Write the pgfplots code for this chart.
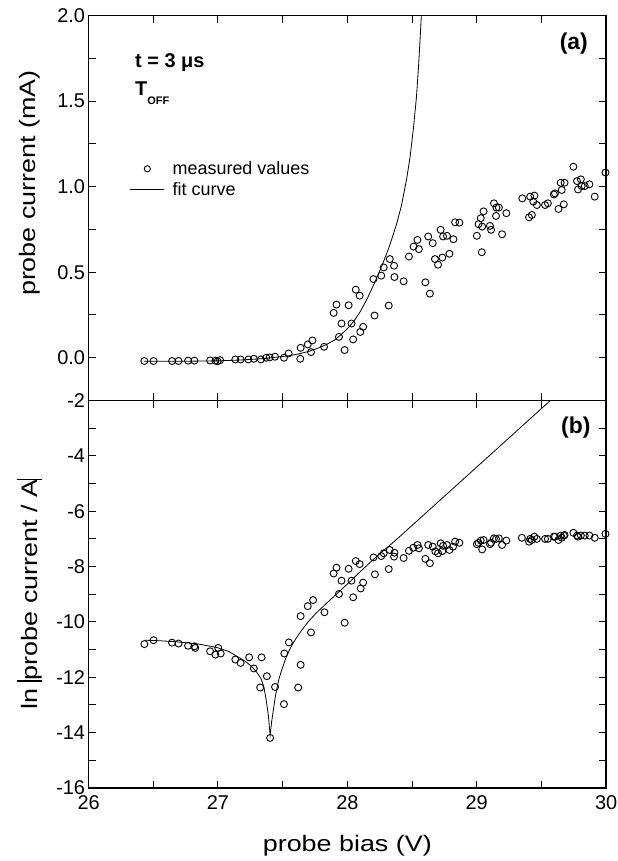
\documentclass[border=0pt]{standalone}
\usepackage{fontspec}
\setmainfont{Liberation Sans}
\newfontfamily\widefont[FakeStretch=1.2]{Liberation Sans}
\usepackage{pgfplots}
\pgfplotsset{compat=1.18}

\newcommand\tagfont{\fontsize{20}{20}\selectfont\bfseries}
\newcommand\panelfont{\fontsize{23}{23}\selectfont\bfseries}

\begin{document}
\begin{tikzpicture}
\pgfplotsset{
  every axis/.append style={
    scale only axis, width=517.5bp,
    xmin=26, xmax=30,
    xtick={26,27,28,29,30}, minor x tick num=1,
    axis line style={line width=1.3bp},
    every tick/.style={black, line width=1bp},
    major tick length=7bp, minor tick length=7bp,
    tick align=inside,
    /pgf/number format/assume math mode=true,
    ticklabel style={font=\fontsize{20}{20}\selectfont},
    xticklabel style={yshift=-4bp},
    label style={font=\widefont\fontsize{22.5}{22.5}\selectfont},
  },
  meas/.style={only marks, mark=o, black, mark size=3.5bp, mark options={line width=0.9bp},
    legend image code/.code={\draw[##1, mark size=3.1bp] plot coordinates {(17bp,0bp)};}},
  fit/.style={black, line width=0.8bp, mark=none,
    legend image code/.code={\draw[##1] (0bp,0bp) -- (34bp,0bp);}},
}

% (a) linear current
\begin{axis}[
  name=top, height=384.8bp,
  ymin=-0.25, ymax=2,
  ytick={0,0.5,1,1.5,2}, minor y tick num=1,
  yticklabel style={/pgf/number format/.cd, fixed, fixed zerofill, precision=1},
  xticklabels={},
  ylabel={probe current (mA)},
  ylabel style={at={(rel axis cs:-0.114,0.565)}, anchor=center},
  legend style={draw=none, fill=none, at={(axis cs:26.318,1.16)}, anchor=north west,
    inner sep=0pt, row sep=2bp, font=\fontsize{18}{18}\selectfont,
    /tikz/every odd column/.append style={column sep=6bp}},
  legend cell align=left,
]
\addplot[meas] coordinates {
 (26.431,-0.019) (26.502,-0.019) (26.645,-0.019) (26.695,-0.019) (26.769,-0.017)
 (26.818,-0.017) (26.939,-0.016) (26.980,-0.017) (26.997,-0.021) (27.016,-0.014)
 (27.134,-0.010) (27.175,-0.010) (27.235,-0.010) (27.277,-0.006) (27.332,-0.010)
 (27.373,0.000) (27.400,0.002) (27.441,0.006) (27.510,0.000) (27.546,0.025)
 (27.639,0.058) (27.636,-0.006) (27.694,0.078) (27.730,0.101) (27.719,0.033)
 (27.820,0.064) (27.894,0.262) (27.916,0.311) (27.935,0.122) (27.955,0.200)
 (27.979,0.045) (28.010,0.307) (28.032,0.200) (28.045,0.107) (28.065,0.398)
 (28.095,0.363) (28.100,0.151) (28.122,0.181) (28.202,0.460) (28.210,0.247)
 (28.262,0.480) (28.281,0.528) (28.320,0.305) (28.328,0.577) (28.361,0.538)
 (28.364,0.472) (28.435,0.447) (28.476,0.592) (28.512,0.650) (28.542,0.689)
 (28.553,0.635) (28.603,0.441) (28.625,0.709) (28.638,0.375) (28.660,0.670)
 (28.677,0.577) (28.701,0.544) (28.721,0.748) (28.734,0.586) (28.740,0.709)
 (28.770,0.713) (28.789,0.608) (28.820,0.693) (28.833,0.792) (28.866,0.790)
 (29.001,0.713) (29.014,0.781) (29.031,0.816) (29.042,0.767) (29.039,0.617)
 (29.053,0.856) (29.102,0.771) (29.111,0.748) (29.133,0.903) (29.149,0.829)
 (29.152,0.878) (29.171,0.878) (29.196,0.722) (29.229,0.845) (29.352,0.932)
 (29.404,0.821) (29.413,0.942) (29.426,0.835) (29.446,0.948) (29.437,0.913)
 (29.465,0.893) (29.528,0.893) (29.550,0.903) (29.596,0.955) (29.605,0.961)
 (29.632,0.870) (29.649,1.023) (29.657,0.981) (29.673,0.897) (29.679,1.023)
 (29.747,1.117) (29.775,1.033) (29.783,0.984) (29.805,1.043) (29.811,1.004)
 (29.835,1.004) (29.871,1.014) (29.912,0.942) (29.995,1.083)
};
\addlegendentry{measured values}
\addplot[fit] coordinates {
 (26.43,-0.021) (26.80,-0.020) (27.00,-0.018) (27.15,-0.014) (27.25,-0.010)
 (27.35,-0.005) (27.45,0.003) (27.55,0.012) (27.62,0.022) (27.70,0.037)
 (27.77,0.055) (27.84,0.078) (27.90,0.103) (27.95,0.134) (28.00,0.170)
 (28.05,0.213) (28.10,0.270) (28.15,0.340) (28.20,0.421) (28.265,0.534)
 (28.32,0.641) (28.375,0.767) (28.416,0.883) (28.457,1.039) (28.485,1.175)
 (28.512,1.350) (28.534,1.524) (28.550,1.699) (28.562,1.860) (28.572,2.0)
 (28.58,2.12)
};
\addlegendentry{fit curve}
\node[anchor=base west, font=\tagfont, inner sep=0pt] at (axis cs:26.359,1.699) {t = 3 μs};
\node[anchor=base west, font=\tagfont, inner sep=0pt] at (axis cs:26.359,1.531) {T\raisebox{-0.42em}{\fontsize{11}{11}\selectfont OFF}};
\node[anchor=base east, font=\panelfont, inner sep=0pt] at (axis cs:29.86,1.80) {(a)};
\end{axis}

% (b) log current
\begin{axis}[
  name=bot, at={(top.south west)}, anchor=north west, height=387.5bp,
  ymin=-16, ymax=-2,
  ytick={-16,-14,...,-2}, minor y tick num=1,
  xlabel={probe bias (V)},
  xlabel style={at={(rel axis cs:0.5,0)}, anchor=base, yshift=-63bp},
  ylabel={ln\ \rule[-0.24em]{1.3pt}{1.15em}probe current / A\rule[-0.24em]{1.3pt}{1.15em}},
  ylabel style={at={(rel axis cs:-0.114,0.5)}, anchor=center},
]
\addplot[meas] coordinates {
 (26.431,-10.80) (26.502,-10.66) (26.645,-10.75) (26.695,-10.78) (26.769,-10.86)
 (26.818,-10.88) (26.824,-10.94) (26.939,-11.06) (26.980,-11.18) (27.002,-10.94)
 (27.021,-11.14) (27.134,-11.36) (27.175,-11.48) (27.241,-11.28) (27.277,-11.68)
 (27.326,-12.37) (27.337,-11.28) (27.378,-11.96) (27.403,-14.19) (27.441,-12.35)
 (27.510,-12.97) (27.513,-11.14) (27.548,-10.74) (27.620,-12.37) (27.639,-11.55)
 (27.639,-9.79) (27.694,-9.43) (27.719,-10.38) (27.735,-9.21) (27.823,-9.65)
 (27.894,-8.25) (27.916,-8.04) (27.935,-8.99) (27.955,-8.51) (27.979,-10.03)
 (28.010,-8.08) (28.032,-8.51) (28.045,-9.11) (28.065,-7.80) (28.095,-7.91)
 (28.103,-8.79) (28.122,-8.58) (28.202,-7.67) (28.213,-8.28) (28.262,-7.62)
 (28.281,-7.52) (28.320,-8.09) (28.328,-7.40) (28.361,-7.64) (28.364,-7.50)
 (28.435,-7.69) (28.476,-7.43) (28.509,-7.32) (28.542,-7.22) (28.553,-7.34)
 (28.603,-7.72) (28.625,-7.22) (28.638,-7.88) (28.660,-7.28) (28.680,-7.45)
 (28.701,-7.52) (28.721,-7.16) (28.734,-7.44) (28.740,-7.25) (28.770,-7.22)
 (28.789,-7.40) (28.817,-7.28) (28.833,-7.10) (28.866,-7.14) (29.001,-7.19)
 (29.014,-7.14) (29.031,-7.06) (29.042,-7.38) (29.053,-7.04) (29.102,-7.19)
 (29.111,-7.14) (29.133,-6.98) (29.149,-7.00) (29.171,-6.98) (29.196,-7.22)
 (29.229,-7.06) (29.349,-6.96) (29.404,-7.10) (29.413,-7.00) (29.426,-7.04)
 (29.446,-6.92) (29.465,-7.00) (29.528,-7.00) (29.550,-7.00) (29.596,-6.92)
 (29.605,-6.92) (29.632,-7.04) (29.649,-6.88) (29.657,-6.96) (29.673,-6.88)
 (29.679,-6.86) (29.747,-6.78) (29.775,-6.88) (29.783,-6.92) (29.805,-6.88)
 (29.835,-6.88) (29.871,-6.88) (29.912,-6.96) (29.995,-6.82)
};
\addplot[fit] coordinates {
 (26.431,-10.66) (26.55,-10.68) (26.686,-10.72) (26.85,-10.80) (26.988,-10.92)
 (27.08,-11.06) (27.153,-11.26) (27.21,-11.42) (27.263,-11.62) (27.30,-11.82)
 (27.332,-12.04) (27.355,-12.35) (27.373,-12.83) (27.39,-13.40) (27.403,-14.09)
 (27.415,-13.60) (27.428,-13.19) (27.445,-12.65) (27.469,-12.10) (27.49,-11.78)
 (27.51,-11.50) (27.535,-11.18) (27.565,-10.90) (27.60,-10.62) (27.647,-10.30)
 (27.70,-9.98) (27.757,-9.69) (27.84,-9.32) (27.922,-8.97) (28.032,-8.49)
 (28.10,-8.18) (28.197,-7.76) (28.28,-7.42) (28.361,-7.10) (28.636,-5.94)
 (29.089,-4.03) (29.569,-2.00) (29.60,-1.87)
};
\node[anchor=base east, font=\panelfont, inner sep=0pt] at (axis cs:29.88,-3.18) {(b)};
\end{axis}

\pgfresetboundingbox
\path[use as bounding box] ([shift={(-88.6bp,15.7bp)}]top.north west) rectangle ([shift={(11bp,-73bp)}]bot.south east);
\end{tikzpicture}
\end{document}
